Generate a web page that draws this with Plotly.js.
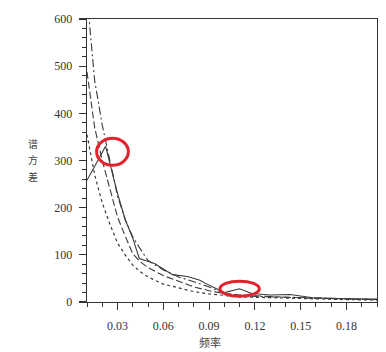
<!DOCTYPE html>
<html>
<head>
<meta charset="utf-8">
<script src="https://cdn.plot.ly/plotly-3.0.1.min.js"></script>
<style>html,body{margin:0;padding:0;background:#fff;}#chart{width:386px;height:352px;}</style>
</head>
<body>
<div id="chart"></div>
<script>
// Frequency (x) and spectral variance (y) readings
const freqSolid = [0.01, 0.0222, 0.03, 0.035, 0.04, 0.0443, 0.0513, 0.0545, 0.0661, 0.0757, 0.084, 0.0873, 0.1, 0.11, 0.118, 0.13, 0.143, 0.158, 0.18, 0.2];
const varSolid  = [258, 330, 230, 175, 135, 92, 85, 81, 58, 54, 46, 40, 20, 28, 18, 15, 16, 9, 7, 6];

const freqGrid = [0.01, 0.015, 0.02, 0.025, 0.03, 0.035, 0.04, 0.045, 0.05, 0.06, 0.07, 0.08, 0.09, 0.1, 0.11, 0.12, 0.14, 0.16, 0.18, 0.2];
const varDashDot = [650, 470, 375, 300, 225, 175, 138, 112, 88, 68, 53, 43, 32, 18, 14, 12, 10, 8, 6, 5];
const varDash    = [488, 370, 300, 237, 180, 140, 102, 85, 73, 56, 44, 32, 24, 18, 15, 13, 10, 8, 6, 5];
const varDot     = [355, 270, 210, 165, 125, 100, 78, 64, 53, 38, 30, 22, 17, 14, 11, 10, 8, 6, 5, 4];

const xTickVals = [0.03, 0.06, 0.09, 0.12, 0.15, 0.18];
const xTickText = ["0.03", "0.06", "0.09", "0.12", "0.15", "0.18"];
const yTickVals = [0, 100, 200, 300, 400, 500, 600];

const yTitleChars = ["谱", "方", "差"];
const xTitle = "频率";

// highlight ellipses [x0, x1, y0, y1] in data units
const ellipse1 = [0.0163, 0.0371, 290, 347];
const ellipse2 = [0.0971, 0.1229, 12, 44];

const lineColor = '#3a3a3a';
const traces = [
  {x: freqGrid, y: varDot, mode: 'lines', line: {color: lineColor, width: 1.2, dash: 'dot'}},
  {x: freqGrid, y: varDash, mode: 'lines', line: {color: lineColor, width: 1.1, dash: '7px,3px'}},
  {x: freqGrid, y: varDashDot, mode: 'lines', line: {color: lineColor, width: 1.1, dash: '8px,3px,2px,3px'}},
  {x: freqSolid, y: varSolid, mode: 'lines', line: {color: lineColor, width: 1.1}}
];

const tickFont = {family: '"Liberation Serif", "Times New Roman", "DejaVu Serif", serif', size: 12, color: '#333'};
const titleFont = {family: 'Noto Sans CJK SC', size: 10, color: '#444'};

const annotations = yTitleChars.map((ch, i) => ({
  text: ch, xref: 'paper', yref: 'paper', x: -0.186, y: 0.56 - i * 0.058, showarrow: false,
  font: titleFont, xanchor: 'center', yanchor: 'middle', borderpad: 0
}));
annotations.push({text: xTitle, xref: 'paper', yref: 'paper', x: 0.425, y: -0.14, showarrow: false,
  font: {family: 'Noto Sans CJK SC', size: 11, color: '#444'}, xanchor: 'center', yanchor: 'middle'});

const layout = {
  width: 386, height: 352,
  margin: {l: 87, r: 9, t: 19, b: 50, pad: 0},
  paper_bgcolor: '#fff', plot_bgcolor: '#fff',
  showlegend: false,
  xaxis: {
    range: [0.01, 0.2], tickmode: 'array', tickvals: xTickVals, ticktext: xTickText,
    ticks: 'outside', ticklen: 7, tickwidth: 1.2, tickcolor: '#333',
    minor: {dtick: 0.01, tick0: 0, ticks: 'outside', ticklen: 4, tickcolor: '#333', tickwidth: 1},
    showline: true, linecolor: '#333', linewidth: 1.3, mirror: true,
    showgrid: false, zeroline: false, tickfont: tickFont, ticklabelstandoff: 5
  },
  yaxis: {
    range: [0, 600], tickmode: 'array', tickvals: yTickVals,
    ticks: 'outside', ticklen: 7, tickwidth: 1.2, tickcolor: '#333',
    minor: {dtick: 20, tick0: 0, ticks: 'outside', ticklen: 4, tickcolor: '#333', tickwidth: 1},
    showline: true, linecolor: '#333', linewidth: 1.3, mirror: true,
    showgrid: false, zeroline: false, tickfont: tickFont, ticklabelstandoff: 4
  },
  shapes: [
    {type: 'circle', xref: 'x', yref: 'y', x0: ellipse1[0], x1: ellipse1[1], y0: ellipse1[2], y1: ellipse1[3], line: {color: '#e3232b', width: 3}},
    {type: 'circle', xref: 'x', yref: 'y', x0: ellipse2[0], x1: ellipse2[1], y0: ellipse2[2], y1: ellipse2[3], line: {color: '#e3232b', width: 3}}
  ],
  annotations: annotations
};
Plotly.newPlot('chart', traces, layout, {displayModeBar: false, staticPlot: true});
</script>
</body>
</html>
